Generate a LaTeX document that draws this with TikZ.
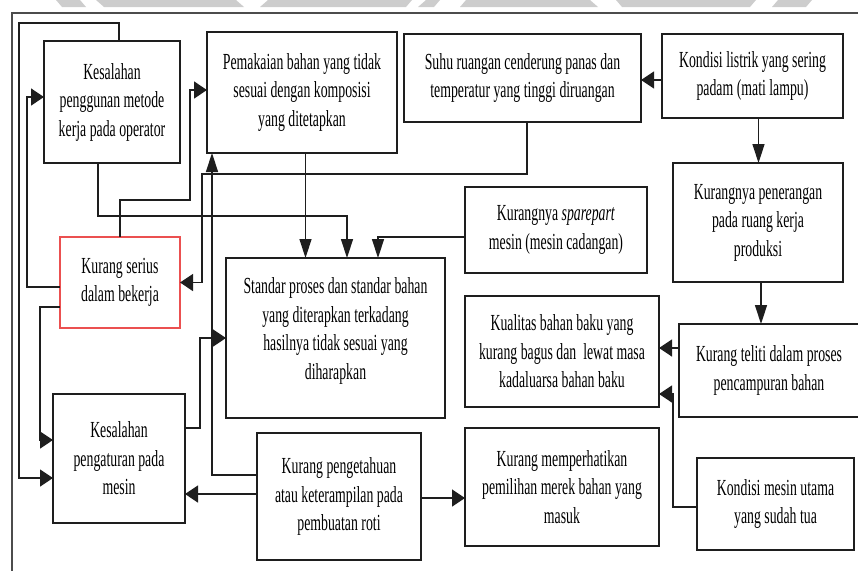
\documentclass[tikz,border=0pt]{standalone}
\usepackage{fontspec}
\setmainfont{Liberation Serif}[FakeStretch=0.6]
\usetikzlibrary{arrows.meta,calc}

\definecolor{wmgrey}{RGB}{205,205,205}
\definecolor{boxred}{RGB}{235,80,80}
\definecolor{ink}{RGB}{30,30,30}

\tikzset{
  box/.style={draw=ink, line width=1.7pt, fill=white, inner sep=0pt, outer sep=0pt,
    align=center, font=\fontsize{23}{28.5}\selectfont},
  txt/.style={inner sep=0pt, align=center, font=\fontsize{23}{28.5}\selectfont},
  link/.style={draw=ink, line width=1.4pt},
  ha/.style={link, -{Triangle[length=13pt,width=17pt]}},
  va/.style={link, -{Triangle[length=19pt,width=12pt]}}
}

\begin{document}
\begin{tikzpicture}[x=1pt,y=-1pt]
\useasboundingbox (0,0) rectangle (858,570);

% faint band along the top edge
\fill[wmgrey] (56,0) -- (80,0) -- (86,7) -- (62,7) -- cycle;
\fill[wmgrey] (96,0) -- (236,0) -- (244,7) -- (104,7) -- cycle;
\fill[wmgrey] (268,0) -- (412,0) -- (406,7) -- (260,7) -- cycle;
\fill[wmgrey] (426,0) -- (440,0) -- (434,7) -- (418,7) -- cycle;
\fill[wmgrey] (466,0) -- (590,0) -- (598,7) -- (460,7) -- cycle;
\fill[wmgrey] (616,0) -- (756,0) -- (750,7) -- (622,7) -- cycle;
\fill[wmgrey] (778,0) -- (812,0) -- (806,7) -- (772,7) -- cycle;

% frame
\draw[black!70, line width=2pt] (12,572) -- (12,13) -- (860,13);

% boxes
\node[box, minimum width=136pt, minimum height=122pt] (kpm) at (112,102)
  {Kesalahan\\ penggunan metode\\ kerja pada operator};
\node[box, minimum width=190pt, minimum height=121pt] (pem) at (302,92.5)
  {Pemakaian bahan yang tidak\\ sesuai dengan komposisi\\ yang ditetapkan};
\node[box, minimum width=237pt, minimum height=88pt] (suhu) at (522.5,78)
  {Suhu ruangan cenderung panas dan\\ temperatur yang tinggi diruangan};
\node[box, minimum width=181pt, minimum height=84pt] (listrik) at (752.5,76)
  {Kondisi listrik yang sering\\ padam (mati lampu)};
\node[box, minimum width=170pt, minimum height=119pt] (terang) at (758,222.5)
  {Kurangnya penerangan\\ pada ruang kerja\\ produksi};
\node[box, minimum width=182pt, minimum height=86pt] (spare) at (556,230)
  {Kurangnya \textit{sparepart}\\ mesin (mesin cadangan)};
\node[box, draw=boxred, minimum width=120pt, minimum height=91pt] (serius) at (120,282.5)
  {Kurang serius\\ dalam bekerja};
\node[box, minimum width=219pt, minimum height=160pt] (standar) at (335.5,338) {};
\node[txt] (standartext) at ([yshift=7pt]standar.center)
  {Standar proses dan standar bahan\\ yang diterapkan terkadang\\ hasilnya tidak sesuai yang\\ diharapkan};
\node[box, minimum width=194pt, minimum height=111pt] (kualitas) at (562,351.5)
  {Kualitas bahan baku yang\\ kurang bagus dan\ \ lewat masa\\ kadaluarsa bahan baku};
\node[box, minimum width=180pt, minimum height=93pt] (teliti) at (769,370.5)
  {Kurang teliti dalam proses\\ pencampuran bahan};
\node[box, minimum width=132pt, minimum height=129pt] (pengaturan) at (119,458.5)
  {Kesalahan\\ pengaturan pada\\ mesin};
\node[box, minimum width=164pt, minimum height=127pt] (pengetahuan) at (339,496.5)
  {Kurang pengetahuan\\ atau keterampilan pada\\ pembuatan roti};
\node[box, minimum width=194pt, minimum height=118pt] (merek) at (562,487)
  {Kurang memperhatikan\\ pemilihan merek bahan yang\\ masuk};
\node[box, minimum width=157pt, minimum height=92pt] (mesin) at (775.5,504)
  {Kondisi mesin utama\\ yang sudah tua};

% connectors
\draw[ha] ([yshift=-4pt]listrik.west) -- ([yshift=-4pt]listrik.west -| suhu.east);
\draw[va] ([xshift=6pt]listrik.south) -- ([xshift=6pt]listrik.south |- terang.north);
\draw[va] ([xshift=3pt]terang.south) -- ([xshift=3pt]terang.south |- teliti.north);
\draw[ha] (teliti.west |- 0,348) -- (kualitas.east |- 0,348);
\draw[ha] (mesin.west |- 0,507) -| (673,394) -- (kualitas.east |- 0,394);
\draw[va] (spare.west |- 0,237) -| ([xshift=42.5pt]standar.north);
\draw[ha] ([xshift=4.5pt]suhu.south) |- (202,174) |- (serius.east);
\draw[va] ([xshift=3.5pt]pem.south) -- ([xshift=3.5pt]pem.south |- standar.north);
\draw[va] ([xshift=-14pt]kpm.south) |- (300,216) -| ([xshift=11.5pt]standar.north);
\draw[ha] (serius.north) |- (190,200) |- (pem.west |- 0,90);
\draw[ha] ([yshift=-4.5pt]serius.west) -| (27,97) -- (kpm.west |- 0,97);
\draw[ha] ([xshift=7pt]kpm.north) |- (19,23) |- (pengaturan.west |- 0,478);
\draw[ha] ([yshift=-24.5pt]serius.west) -| (40,440) -- (pengaturan.west |- 0,440);
\draw[ha] ([yshift=30.5pt]pengaturan.east) -| (200,338) -- (standar.west);
\draw[va] ([yshift=21.5pt]pengetahuan.west) -| ([xshift=5pt]pem.south west);
\draw[ha] ([yshift=2.5pt]pengetahuan.west) -- ([yshift=2.5pt]pengetahuan.west -| pengaturan.east);
\draw[ha] ([yshift=-1.5pt]pengetahuan.east) -- ([yshift=-1.5pt]pengetahuan.east -| merek.west);
\end{tikzpicture}
\end{document}
